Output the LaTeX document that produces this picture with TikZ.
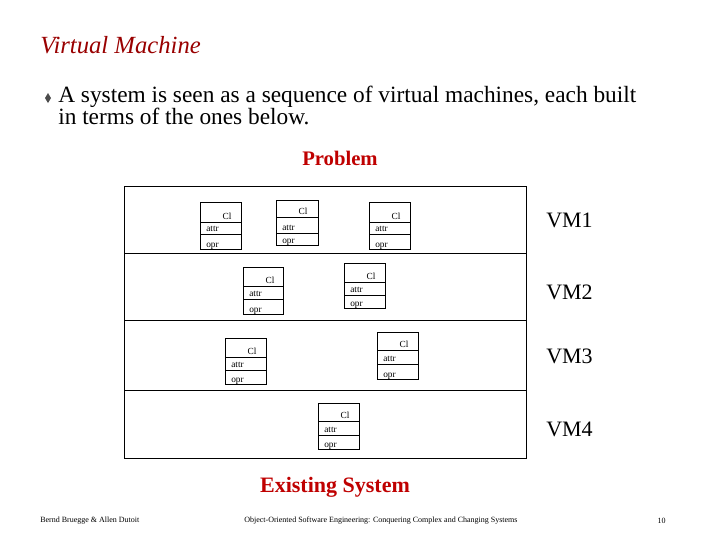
\documentclass[tikz,border=0pt]{standalone}
\usepackage{fontspec}
\setmainfont{Liberation Serif}
\begin{document}
\begin{tikzpicture}[x=0.75pt,y=-0.75pt,
  ln/.style={black,line width=0.6pt},
  t/.style={font=\fontsize{7}{8}\selectfont,inner sep=0pt},
  vm/.style={font=\fontsize{16.5}{18}\selectfont,inner sep=0pt,anchor=west},
  red/.style={text=red!75!black,font=\bfseries\fontsize{15.5}{18}\selectfont,inner sep=0pt}]
\useasboundingbox (0,0) rectangle (720,540);
\node[anchor=west,inner sep=0pt,text=red!60!black,font=\itshape\fontsize{18.5}{20}\selectfont] (title) at (40,45) {Virtual Machine};
\fill[black!70] (48,93) -- (51,98) -- (48,103) -- (45,98) -- cycle;
\node[anchor=north west,inner sep=0pt,align=left,font=\fontsize{17.5}{16.5}\selectfont] (txt) at (58,86) {A system is seen as a sequence of virtual machines, each built\\ in terms of the ones below.};
\node[red] (prob) at (340,158) {Problem};
\node[red,font=\bfseries\fontsize{16.5}{18}\selectfont] (exist) at (335,487) {Existing System};
\draw[ln] (124,186) rectangle (526,458);
\draw[ln] (124,253) -- (526,253);
\draw[ln] (124,320) -- (526,320);
\draw[ln] (124,390) -- (526,390);
\node[vm] (vm1) at (546,220) {VM1};
\node[vm] (vm2) at (546,292) {VM2};
\node[vm] (vm3) at (546,356) {VM3};
\node[vm] (vm4) at (546,429) {VM4};
\foreach \n/\xa/\ya/\xb/\yb/\la/\lb in {a/200/202/241/249/222/234, b/276/200/318/245/217/233, c/369/202/410/249/222/234, d/243/267/283/314/286/299, e/344/263/385/308/282/295, f/225/338/266/384/357/370, g/377/332/418/379/350/364, h/318/403/359/449/421/435}{
  \draw[ln] (\xa,\ya) rectangle (\xb,\yb);
  \draw[ln] (\xa,\la) -- (\xb,\la);
  \draw[ln] (\xa,\lb) -- (\xb,\lb);
  \node[t,anchor=base] (\n cl) at ({\xa+27},{\la-3}) {Cl};
  \node[t,anchor=base west] (\n at) at ({\xa+6},{\lb-3}) {attr};
  \node[t,anchor=base west] (\n op) at ({\xa+6},{\yb-2}) {opr};
}
\node[anchor=west,inner sep=0pt,font=\fontsize{6}{7}\selectfont] (f1) at (40,521) {Bernd Bruegge \& Allen Dutoit};
\node[anchor=west,inner sep=0pt,font=\fontsize{6}{7}\selectfont] (f2) at (244,521) {Object-Oriented Software Engineering: Conquering Complex and Changing Systems};
\node[anchor=east,inner sep=0pt,font=\fontsize{6}{7}\selectfont] (f3) at (666,521) {10};
\end{tikzpicture}
\end{document}
